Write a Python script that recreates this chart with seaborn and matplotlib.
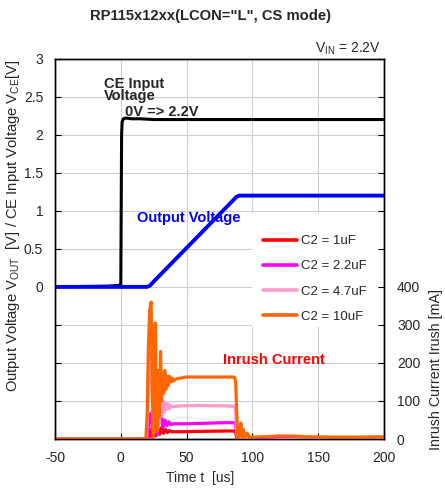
import matplotlib
matplotlib.use("Agg")
import matplotlib.pyplot as plt
import seaborn as sns
from matplotlib.patches import Rectangle
from matplotlib.ticker import FixedLocator, FuncFormatter

# ---- waveform data -------------------------------------------------------
# CE input voltage [V]
t_ce = [-50, -10, -1, 0.0, 0.6, 1.0, 2.0, 4, 8, 15, 25, 40, 60, 100, 150, 200]
v_ce = [0, 0.01, 0.02, 0.03, 2.0, 2.17, 2.21, 2.22, 2.21, 2.21, 2.20, 2.20, 2.20, 2.20, 2.20, 2.20]

# Output voltage [V]
t_out = [-50, 20, 22, 25, 88, 90, 200]
v_out = [0, 0, 0.015, 0.07, 1.185, 1.2, 1.2]

# Inrush current [mA], C2 = 1uF
t_1u = [-50, 20.5, 22, 23.5, 25, 26.5, 28, 29.5, 31, 32.5, 34, 35.5, 37, 39, 45, 60, 80, 86.5, 87.3, 88, 89, 95, 200]
i_1u = [0, 0, 25, 5, 30, 8, 28, 12, 30, 15, 25, 17, 22, 19, 19, 20, 21, 21, 17, 5, 0, 1, 1]

# C2 = 2.2uF
t_2u2 = [-50, 20, 21.5, 23, 24.5, 26, 27.5, 29, 30.5, 32, 33.5, 35, 36.5, 38, 40, 50, 60, 70, 80, 86.5, 87.3, 88, 89, 92, 100, 200]
i_2u2 = [0, 0, 50, 68, 5, 55, 10, 60, 68, 30, 50, 35, 45, 38, 40, 40, 41, 42, 43, 43, 35, 8, 0, 2, 1, 1]

# C2 = 4.7uF
t_4u7 = [-50, 19.5, 21, 22, 23, 24.5, 26, 27, 28, 29, 30, 31, 32, 33, 34, 35, 36, 37, 38, 40, 45, 60, 80, 86.5, 87.3, 88, 89, 90, 92, 95, 100, 110, 120, 140, 200]
i_4u7 = [0, 0, 120, 260, 230, 40, 200, 60, 150, 40, 120, 60, 100, 70, 95, 78, 92, 80, 88, 85, 87, 88, 87, 86, 70, 20, 0, 5, 0, 3, -3, -4, -2, 1, 2]

# C2 = 10uF
t_10u = [-50, 19.0, 20.0, 21.0, 22.0, 23.0, 24.0, 24.8, 25.5, 26.2, 27.0, 27.8, 28.6, 29.4, 30.2, 31.0,
         31.8, 32.6, 33.4, 34.2, 35.0, 36.0, 37.0, 38.0, 39.0, 40.0, 42.0, 45, 50, 60, 70, 80, 85, 86.5,
         87.3, 88.0, 88.6, 89.2, 89.8, 90.5, 91.2, 92.0, 93.0, 94.5, 96.0, 98, 100, 110, 120, 130, 140,
         160, 180, 200]
i_10u = [0, 0, 60, 250, 340, 360, 120, 0, 250, 305, 120, 20, 180, 60, 230, 100,
         170, 120, 180, 130, 165, 140, 165, 150, 160, 152, 158, 160, 163, 163, 163, 163, 163, 162,
         150, 80, 20, 3, 30, 10, 42, 5, 25, 5, 15, 4, 5, 6, 8, 8, 6,
         5, 5, 6]

cap_labels = ["C2 = 1uF", "C2 = 2.2uF", "C2 = 4.7uF", "C2 = 10uF"]
cap_colors = ["#ff0000", "#ff00ff", "#ff99cc", "#ff6600"]

x_ticks = [-50, 0, 50, 100, 150, 200]
v_ticks = [-2, -1.5, -1, -0.5, 0, 0.5, 1, 1.5, 2, 2.5, 3]
i_ticks = [0, 100, 200, 300, 400, 500, 600, 700, 800, 900, 1000]

# ---- style ---------------------------------------------------------------
sns.set_style("white")
plt.rcParams['font.family'] = ['Liberation Sans', 'DejaVu Sans']
plt.rcParams['mathtext.fontset'] = 'custom'
plt.rcParams['mathtext.rm'] = 'Liberation Sans'
plt.rcParams['axes.unicode_minus'] = False

W, H = 445, 490
fig = plt.figure(figsize=(W / 100, H / 100), dpi=100)
ax = fig.add_axes([55 / W, 1 - 439 / H, 329 / W, 380.3 / H])
ax2 = ax.twinx()

# voltages on the left axis
sns.lineplot(x=t_ce, y=v_ce, ax=ax, color="black", linewidth=2.2, estimator=None, sort=False)
sns.lineplot(x=t_out, y=v_out, ax=ax, color="#0000ff", linewidth=2.8, estimator=None, sort=False)

# inrush currents on the right axis
for t, i, lab, col in zip([t_1u, t_2u2, t_4u7, t_10u], [i_1u, i_2u2, i_4u7, i_10u], cap_labels, cap_colors):
    sns.lineplot(x=t, y=i, ax=ax2, color=col, linewidth=2.3, estimator=None, sort=False, label=lab)

ax.set_xlim(-50, 200)
ax.set_ylim(-2, 3)
ax2.set_ylim(0, 1000)

ax.xaxis.set_major_locator(FixedLocator(x_ticks))
ax.yaxis.set_major_locator(FixedLocator(v_ticks))
ax.yaxis.set_major_formatter(FuncFormatter(lambda v, p: f"{v:g}" if v >= 0 else ""))
ax2.yaxis.set_major_locator(FixedLocator(i_ticks))
ax2.yaxis.set_major_formatter(FuncFormatter(lambda v, p: f"{v:g}" if v <= 400 else ""))
ax.xaxis.set_major_formatter(FuncFormatter(lambda v, p: f"{v:g}"))

ax.grid(True, color="#cfcfcf", linewidth=0.8)
ax.set_axisbelow(True)
ax2.grid(False)

ax.tick_params(axis="both", direction="in", length=4, width=0.8, color="black",
               labelsize=10, pad=8.5, bottom=True, left=True, top=False, right=False)
ax2.tick_params(axis="y", direction="in", length=4, width=0.8, color="black",
                labelsize=10, pad=9.3, right=True, left=False)
for a in (ax, ax2):
    for s in a.spines.values():
        s.set_color("black")
        s.set_linewidth(1.0)
ax.set_xlabel("")
ax.set_ylabel("")
ax2.set_ylabel("")

# white backing behind the legend
ax.add_patch(Rectangle((0.599, 0.2945), 0.395, 0.2998, transform=ax.transAxes,
                       facecolor="white", edgecolor="none", zorder=1))

handles, labels = ax2.get_legend_handles_labels()
leg = ax2.legend(handles, labels, loc="upper left", bbox_to_anchor=(263 / W, 1 - 235 / H),
                 bbox_transform=fig.transFigure, frameon=False, fontsize=9.5,
                 borderpad=0, borderaxespad=0, handlelength=2.6, handletextpad=0.25,
                 labelspacing=0.98)
for ln in leg.get_lines():
    ln.set_linewidth(2.6)

# annotations
ax.text(-12.8, 2.76, "CE Input\nVoltage", fontsize=10.5, fontweight="bold",
        ha="left", va="top", linespacing=0.85)
ax.text(3.2, 2.30, "0V => 2.2V", fontsize=10.5, fontweight="bold", ha="left", va="center")
ax.text(12.3, 0.91, "Output Voltage", fontsize=10.5, fontweight="bold", color="#0000ff",
        ha="left", va="center")
ax2.text(77.7, 208, "Inrush Current", fontsize=10.5, fontweight="bold", color="#ff0000",
         ha="left", va="center")

# titles and axis labels
fig.text(211 / W, 1 - 16 / H, 'RP115x12xx(LCON="L", CS mode)', fontsize=10.6,
         fontweight="bold", ha="center", va="center")
fig.text(381 / W, 1 - 49 / H, r"V$\mathregular{_{IN}}$ = 2.2V", fontsize=10,
         ha="right", va="center")
fig.text(13 / W, 1 - 226 / H,
         r"Output Voltage V$\mathregular{_{OUT}}$  [V] / CE Input Voltage V$\mathregular{_{CE}}$[V]",
         fontsize=10.6, rotation=90, ha="center", va="center")
fig.text(436 / W, 1 - 370 / H, "Inrush Current Irush [mA]", fontsize=10.3, rotation=90,
         ha="center", va="center")
fig.text(200 / W, 1 - 478 / H, "Time t  [us]", fontsize=10, ha="center", va="center")

fig.savefig("out.png", dpi=100)
